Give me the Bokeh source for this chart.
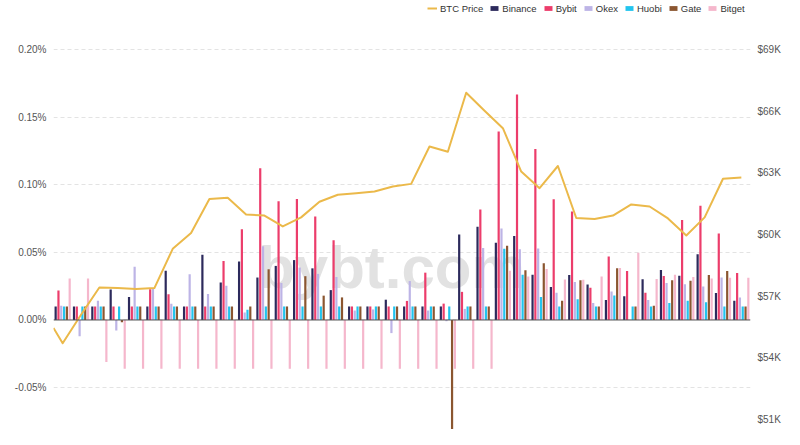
from bokeh.plotting import figure
from bokeh.models import (Range1d, LinearAxis, FixedTicker, PrintfTickFormatter,
                          CustomJSTickFormatter, Span, Legend, LegendItem, Label)
from bokeh.embed import file_html
from bokeh.resources import INLINE

FONT = "'Liberation Sans', Arial, sans-serif"

# ---------------- data (funding rate in %, BTC price in USD) ----------------
binance = [0.010, 0.010, 0.010, 0.0225, 0.017, 0.010, 0.0364, 0.010, 0.0482, 0.0277,
           0.0432, 0.0314, 0.0400, 0.0443, 0.0382, 0.0221, 0.010, 0.010, 0.0150, 0.010,
           0.010, 0.010, 0.0633, 0.0690, 0.0571, 0.0621, 0.0334, 0.0244, 0.0333, 0.0262,
           0.0147, 0.0175, 0.0302, 0.0370, 0.0328, 0.0487, 0.0200, 0.0143]
bybit = [0.0219, 0.010, 0.010, 0.010, 0.010, 0.0227, 0.0190, 0.010, 0.010, 0.0436,
         0.0672, 0.1122, 0.0879, 0.0894, 0.0765, 0.0590, 0.010, 0.010, 0.010, 0.0141,
         0.0350, 0.0121, 0.0208, 0.0818, 0.1395, 0.1667, 0.1265, 0.0893, 0.0802, 0.0239,
         0.0470, 0.0363, 0.0202, 0.0326, 0.0739, 0.0844, 0.0640, 0.0348]
okex = [0.0105, -0.0120, 0.0143, -0.0078, 0.0393, 0.0237, 0.0120, 0.0339, 0.0192, 0.0253,
        0.0055, 0.0545, 0.0274, 0.0388, 0.0341, 0.0318, 0.0070, 0.0078, -0.0097, 0.0288,
        0.0070, -0.0009, 0.0082, 0.0533, 0.0677, 0.0524, 0.0528, 0.0202, 0.0281, 0.0126,
        0.0210, 0.0, 0.0147, 0.0274, 0.0264, 0.0248, 0.0314, 0.0167]
huobi = [0.010, 0.010, 0.010, 0.010, 0.010, 0.010, 0.010, 0.010, 0.010, 0.010,
         0.0076, 0.010, 0.010, 0.010, 0.010, 0.010, 0.010, 0.010, 0.010, 0.010,
         0.010, 0.010, 0.010, 0.010, 0.0527, 0.0335, 0.0170, 0.010, 0.0153, 0.010,
         0.0182, 0.010, 0.010, 0.0126, 0.0143, 0.0131, 0.010, 0.010]
gate = [0.010, 0.010, 0.010, -0.0017, 0.010, 0.010, 0.010, 0.010, 0.010, 0.010,
        0.0099, 0.0375, 0.010, 0.0324, 0.0180, 0.0167, 0.010, 0.010, 0.010, 0.010,
        0.010, -0.0880, 0.010, 0.010, 0.0549, 0.0367, 0.0419, 0.0143, 0.0294, 0.010,
        0.0383, 0.010, 0.0105, 0.0294, 0.0291, 0.0333, 0.0362, 0.010]
bitget = [0.0307, 0.0307, -0.0310, -0.0361, -0.0361, -0.0361, -0.0361, -0.0361, -0.0361, -0.0361,
          -0.0361, -0.0361, -0.0361, -0.0361, -0.0361, -0.0361, -0.0361, -0.0361, -0.0361, -0.0361,
          -0.0361, -0.0361, -0.0361, -0.0361, 0.0365, 0.0321, 0.0377, 0.0299, 0.0298, 0.0322,
          0.0384, 0.0498, 0.0304, 0.0335, 0.0318, 0.0306, 0.0313, 0.0312]
btc_price_left_edge = 55450
btc_price = [54710, 56090, 57420, 57400, 57340, 57390, 59300, 60070, 61720, 61780,
             60970, 60920, 60390, 60830, 61590, 61930, 62010, 62090, 62330, 62460,
             64280, 64020, 66890, 66020, 65170, 63060, 62250, 63330, 60800, 60750,
             60920, 61460, 61360, 60780, 59950, 60830, 62710, 62770]

rate_ticks = [-0.05, 0.0, 0.05, 0.10, 0.15, 0.20]
price_ticks = [51000, 54000, 57000, 60000, 63000, 66000, 69000]

series_names = ["Binance", "Bybit", "Okex", "Huobi", "Gate", "Bitget"]
series_values = [binance, bybit, okex, huobi, gate, bitget]
series_colors = ["#2c2a5c", "#ec3d6b", "#bdb4e6", "#22c4ee", "#8b5630", "#f5b7cc"]
btc_color = "#ebb94a"

n = len(btc_price)

# ---------------- figure ----------------
p = figure(width=784, height=429, output_backend="svg", toolbar_location=None,
           x_range=Range1d(0, n), y_range=Range1d(-0.0810, 0.2363),
           x_axis_location=None, min_border_left=53, min_border_right=34,
           min_border_top=0, min_border_bottom=0)
p.outline_line_color = None
p.background_fill_color = "white"
p.border_fill_color = "white"
p.extra_y_ranges = {"price": Range1d(50510, 71382)}

# watermark
p.add_layout(Label(x=338, y=129, x_units="screen", y_units="screen", text="bybt.com",
                   text_font=FONT, text_font_style="bold", text_font_size="60px",
                   text_color="#e2e2e2", text_align="center", level="underlay"))

# left axis
ya = p.yaxis[0]
ya.ticker = FixedTicker(ticks=rate_ticks)
ya.formatter = PrintfTickFormatter(format="%.2f%%")
ya.axis_line_color = None
ya.major_tick_line_color = None
ya.minor_tick_line_color = None
ya.major_label_standoff = 1
ya.major_label_text_font = FONT
ya.major_label_text_font_size = "10px"
ya.major_label_text_color = "#555555"

# right axis
ra = LinearAxis(y_range_name="price", ticker=FixedTicker(ticks=price_ticks),
                formatter=CustomJSTickFormatter(code="return '$' + Math.round(tick/1000) + 'K';"))
ra.axis_line_color = None
ra.major_tick_line_color = None
ra.minor_tick_line_color = None
ra.major_label_standoff = 1
ra.major_label_text_font = FONT
ra.major_label_text_font_size = "10px"
ra.major_label_text_color = "#555555"
p.add_layout(ra, "right")

p.xgrid.visible = False
p.ygrid.ticker = FixedTicker(ticks=rate_ticks)
p.ygrid.grid_line_color = "#e3e3e3"
p.ygrid.grid_line_dash = "4 3"

# bars
step = 0.153
bw = 0.12
bar_renderers = []
for j, (vals, col) in enumerate(zip(series_values, series_colors)):
    xs = [i + 0.5 + (j - 2.5) * step for i in range(n)]
    r = p.vbar(x=xs, top=vals, bottom=0, width=bw, fill_color=col, line_color=None)
    bar_renderers.append(r)

p.add_layout(Span(location=0, dimension="width", line_color="#555555", line_width=1))

# BTC price line
line_x = [0] + [i + 0.5 for i in range(n)]
line_y = [btc_price_left_edge] + btc_price
lr = p.line(x=line_x, y=line_y, y_range_name="price", line_color=btc_color, line_width=2,
            line_join="round")

items = [LegendItem(label="BTC Price", renderers=[lr])]
for name, r in zip(series_names, bar_renderers):
    items.append(LegendItem(label=name, renderers=[r]))

legend = Legend(items=items, orientation="horizontal", location=(374, 415),
                glyph_width=10, glyph_height=6, label_standoff=3, spacing=6,
                padding=0, margin=0, border_line_color=None, background_fill_alpha=0,
                label_text_font=FONT, label_text_font_size="9.5px",
                label_text_color="#333333", label_height=12)
p.add_layout(legend)

open("out.html", "w").write(file_html(p, INLINE))
